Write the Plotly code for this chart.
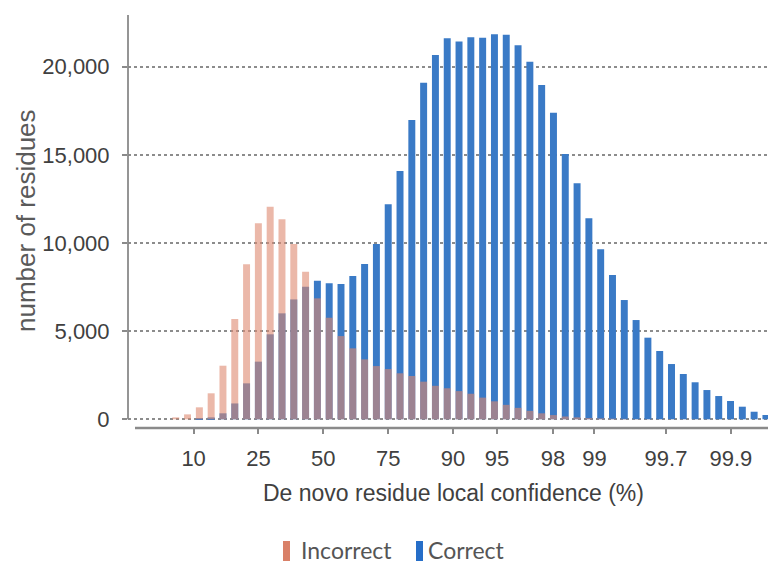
import numpy as np
import plotly.graph_objects as go

# ---- data ----
# bin centres on a logit(confidence) scale, step 0.2, from -2.5 to 7.5
bin_centers_logit = [round(-2.5 + 0.2 * i, 1) for i in range(51)]

correct_counts = [0, 0, 20, 110, 340, 900, 2040, 3270, 4820, 6010,
                  6800, 7520, 7860, 7710, 7670, 8130, 8810, 9940, 12190, 14080,
                  16980, 19090, 20660, 21610, 21420, 21665, 21645, 21835, 21815, 21210,
                  20285, 18960, 17390, 15050, 13385, 11400, 9640, 8185, 6765, 5630,
                  4630, 3875, 3135, 2570, 2100, 1660, 1320, 1040, 715, 430, 245]

incorrect_counts = [110, 280, 680, 1475, 3040, 5690, 8790, 11115, 12060, 11340,
                    9940, 8370, 6860, 5760, 4720, 4025, 3400, 3020, 2850, 2610,
                    2455, 2135, 1900, 1760, 1600, 1450, 1230, 1020, 820, 650,
                    480, 340, 240, 160, 110, 70, 50, 35, 25, 15,
                    12, 10, 8, 6, 5, 4, 3, 2, 1, 1, 0]

tick_labels = ["10", "25", "50", "75", "90", "95", "98", "99", "99.7", "99.9"]
y_ticks = [0, 5000, 10000, 15000, 20000]

series_names = ["Incorrect", "Correct"]

# ---- styles ----
BLUE = "rgb(58,122,198)"
SALMON_A = "rgba(221,136,111,0.6)"
LEG_SALMON = "rgb(217,128,104)"
LEG_BLUE = "rgb(38,110,200)"
AXIS_GRAY = "#8a8a8a"
TXT = "#404040"
FONT = "Liberation Sans, Arial, sans-serif"

tick_vals = [float(np.log((float(t) / 100) / (1 - float(t) / 100))) for t in tick_labels]

fig = go.Figure()
fig.add_trace(go.Bar(x=bin_centers_logit, y=correct_counts, name=series_names[1],
                     marker=dict(color=BLUE, line=dict(width=0)), width=0.118,
                     showlegend=False))
fig.add_trace(go.Bar(x=bin_centers_logit, y=incorrect_counts, name=series_names[0],
                     marker=dict(color=SALMON_A, line=dict(width=0)), width=0.118,
                     showlegend=False))

W, H = 768, 565
L, R, T, B = 128, 0, 15, 137
plot_h = H - T - B
plot_w = W - L - R

def px_x(p):
    return (p - L) / plot_w

def px_y(p):
    return (H - B - p) / plot_h

fig.update_layout(
    width=W, height=H,
    margin=dict(l=L, r=R, t=T, b=B, pad=0),
    barmode="overlay",
    plot_bgcolor="white", paper_bgcolor="white",
    xaxis=dict(
        range=[-3.309, 7.535],
        tickmode="array", tickvals=tick_vals, ticktext=tick_labels,
        ticks="outside", ticklen=5, tickwidth=1.5, tickcolor=AXIS_GRAY,
        tickfont=dict(family=FONT, size=22, color=TXT),
        ticklabelstandoff=6,
        showgrid=False, zeroline=False, showline=False,
    ),
    yaxis=dict(
        range=[-493, 22930],
        tickmode="array", tickvals=y_ticks, tickformat=",d",
        ticks="outside", ticklen=5, tickwidth=1.5, tickcolor=AXIS_GRAY,
        tickfont=dict(family=FONT, size=22, color=TXT),
        ticklabelstandoff=8,
        showgrid=True, gridcolor="#8c8c8c", gridwidth=1.6, griddash="3px,3px",
        zeroline=False, showline=False,
    ),
    shapes=[
        # y axis line (from 0 to top)
        dict(type="line", xref="paper", yref="y", x0=0, x1=0, y0=0, y1=22930,
             line=dict(color=AXIS_GRAY, width=1.8)),
        # x axis baseline
        dict(type="line", xref="paper", yref="paper", x0=px_x(135), x1=1, y0=0, y1=0,
             line=dict(color=AXIS_GRAY, width=2.5)),
        # legend swatches
        dict(type="rect", xref="paper", yref="paper", x0=px_x(283), x1=px_x(290),
             y0=px_y(561), y1=px_y(541), fillcolor=LEG_SALMON, line=dict(width=0)),
        dict(type="rect", xref="paper", yref="paper", x0=px_x(416), x1=px_x(423),
             y0=px_y(561), y1=px_y(541), fillcolor=LEG_BLUE, line=dict(width=0)),
    ],
    annotations=[
        dict(text="number of residues", xref="paper", yref="paper",
             x=px_x(26), y=px_y(221), textangle=-90, showarrow=False,
             font=dict(family=FONT, size=26, color="#5a5a5a"),
             xanchor="center", yanchor="middle"),
        dict(text="De novo residue local confidence (%)", xref="paper", yref="paper",
             x=px_x(453), y=px_y(493), showarrow=False,
             font=dict(family=FONT, size=23, color=TXT),
             xanchor="center", yanchor="middle"),
        dict(text=series_names[0], xref="paper", yref="paper",
             x=px_x(299), y=px_y(550), showarrow=False,
             font=dict(family="Lato, sans-serif", size=23, color="#555555"),
             xanchor="left", yanchor="middle"),
        dict(text=series_names[1], xref="paper", yref="paper",
             x=px_x(426), y=px_y(550), showarrow=False,
             font=dict(family="Lato, sans-serif", size=23, color="#555555"),
             xanchor="left", yanchor="middle"),
    ],
)

fig.write_html("out.html",
               config={"displayModeBar": False},
               post_script="document.body.style.margin='0';document.body.style.overflow='hidden';")
